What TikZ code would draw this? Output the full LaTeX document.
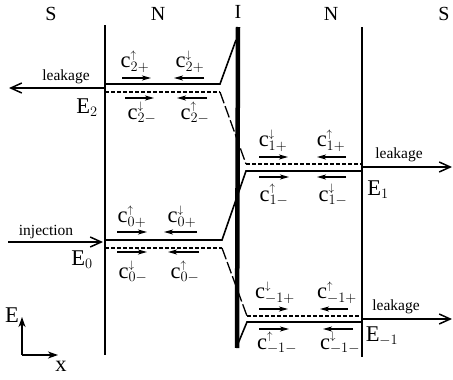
\documentclass[tikz,border=0pt]{standalone}
\usepackage{fontspec}
\setmainfont{Liberation Serif}
\usetikzlibrary{arrows.meta}

\begin{document}
\begin{tikzpicture}[x=1pt, y=-1pt,
    region/.style = {font=\fontsize{20}{22}\selectfont, inner sep=0pt},
    lab/.style = {font=\fontsize{22.5}{25}\selectfont, inner sep=0pt},
    small/.style = {font=\fontsize{15.5}{17}\selectfont, inner sep=0pt},
    wall/.style = {line width=1.6pt},
    level/.style = {line width=1.6pt},
    hole/.style = {line width=1.6pt, dash pattern=on 4pt off 2pt},
    hop/.style = {line width=1.3pt, dash pattern=on 12pt off 3pt},
    mv/.style = {line width=1.3pt, -{Stealth[length=9pt,width=5pt,inset=2.5pt]}},
    flow/.style = {line width=1.5pt, -{Straight Barb[length=11pt,width=10pt]}},
    axis/.style = {line width=1.4pt, -{Stealth[length=10pt,width=7pt,inset=3pt]}}]
    \useasboundingbox (0,0) rectangle (453,380);
    % regions
    \node[region] (s1) at (51,14) {S};
    \node[region] (n1) at (158,14) {N};
    \node[region] (i) at (238,12) {I};
    \node[region] (n2) at (331,14) {N};
    \node[region] (s2) at (444,14) {S};
    % walls and interface
    \coordinate (w1t) at (105,25); \coordinate (w1b) at (105,355);
    \coordinate (w2t) at (362,27); \coordinate (w2b) at (362,357);
    \coordinate (it) at (238,27); \coordinate (ib) at (237,348);
    \draw[wall] (w1t) -- (w1b);
    \draw[wall] (w2t) -- (w2b);
    \draw[line width=4.5pt] (it) -- (ib);
    % level ends
    \coordinate (a2) at (105,84); \coordinate (b2) at (220,84);
    \coordinate (c2) at (105,92); \coordinate (d2) at (220,92);
    \coordinate (a1) at (246,171); \coordinate (b1) at (362,171);
    \coordinate (c1) at (246,164); \coordinate (d1) at (362,164);
    \coordinate (a0) at (105,240); \coordinate (b0) at (222,240);
    \coordinate (c0) at (105,248); \coordinate (d0) at (222,248);
    \coordinate (am) at (247,322); \coordinate (bm) at (362,322);
    \coordinate (cm) at (247,316); \coordinate (dm) at (362,316);
    \coordinate (up) at (236,40); \coordinate (down) at (237,346);
    % levels
    \draw[level] (a2) -- (b2) -- (up);
    \draw[level] (a0) -- (b0) -- (a1) -- (b1);
    \draw[level] (down) -- (am) -- (bm);
    \draw[hole] (c2) -- (d2);
    \draw[hop] (d2) -- (c1);
    \draw[hole] (c1) -- (d1);
    \draw[hole] (c0) -- (d0);
    \draw[hop] (d0) -- (cm);
    \draw[hole] (cm) -- (dm);
    % injection and leakage
    \coordinate (o2) at (105,88); \coordinate (f2) at (9,88);
    \coordinate (o0) at (8,242); \coordinate (f0) at (103,242);
    \coordinate (o1) at (362,167); \coordinate (f1) at (452,167);
    \coordinate (om) at (362,319); \coordinate (fm) at (452,319);
    \draw[flow] (o2) -- (f2);
    \draw[flow] (o0) -- (f0);
    \draw[flow] (o1) -- (f1);
    \draw[flow] (om) -- (fm);
    \node[small] (lk2) at (66,77) {leakage};
    \node[small] (inj) at (46,232) {injection};
    \node[small] (lk1) at (399,155) {leakage};
    \node[small] (lkm) at (396,307) {leakage};
    % energies
    \node[lab] (e2) at (87,108) {$\mathrm{E}_2$};
    \node[lab] (e1) at (378,190) {$\mathrm{E}_1$};
    \node[lab] (e0) at (82,260) {$\mathrm{E}_0$};
    \node[lab] (em) at (382,336) {$\mathrm{E}_{-1}$};
    % amplitudes, E2
    \node[lab, anchor=south] (u2l) at (135,73) {$\mathrm{c}^{\scriptscriptstyle\uparrow}_{2+}$};
    \node[lab, anchor=south] (u2r) at (190,73) {$\mathrm{c}^{\scriptscriptstyle\downarrow}_{2+}$};
    \node[lab, anchor=north] (d2l) at (142,102) {$\mathrm{c}^{\scriptscriptstyle\downarrow}_{2-}$};
    \node[lab, anchor=north] (d2r) at (195,102) {$\mathrm{c}^{\scriptscriptstyle\uparrow}_{2-}$};
    \draw[mv] (u2l.south) ++(-13,5) -- ++(29,0);
    \draw[mv] (u2r.south) ++(14,5) -- ++(-30,0);
    \draw[mv] (d2l.north) ++(-17,-4) -- ++(29,0);
    \draw[mv] (d2r.north) ++(12,-4) -- ++(-30,0);
    % amplitudes, E1
    \node[lab, anchor=south] (u1l) at (273,152) {$\mathrm{c}^{\scriptscriptstyle\downarrow}_{1+}$};
    \node[lab, anchor=south] (u1r) at (331,152) {$\mathrm{c}^{\scriptscriptstyle\uparrow}_{1+}$};
    \node[lab, anchor=north] (d1l) at (274,184) {$\mathrm{c}^{\scriptscriptstyle\uparrow}_{1-}$};
    \node[lab, anchor=north] (d1r) at (333,184) {$\mathrm{c}^{\scriptscriptstyle\downarrow}_{1-}$};
    \draw[mv] (u1l.south) ++(-14,5) -- ++(29,0);
    \draw[mv] (u1r.south) ++(15,5) -- ++(-29,0);
    \draw[mv] (d1l.north) ++(-15,-7) -- ++(30,0);
    \draw[mv] (d1r.north) ++(13,-7) -- ++(-29,0);
    % amplitudes, E0
    \node[lab, anchor=south] (u0l) at (132,228) {$\mathrm{c}^{\scriptscriptstyle\uparrow}_{0+}$};
    \node[lab, anchor=south] (u0r) at (182,228) {$\mathrm{c}^{\scriptscriptstyle\downarrow}_{0+}$};
    \node[lab, anchor=north] (d0l) at (133,261) {$\mathrm{c}^{\scriptscriptstyle\downarrow}_{0-}$};
    \node[lab, anchor=north] (d0r) at (185,261) {$\mathrm{c}^{\scriptscriptstyle\uparrow}_{0-}$};
    \draw[mv] (u0l.south) ++(-15,4) -- ++(30,0);
    \draw[mv] (u0r.south) ++(15,4) -- ++(-33,0);
    \draw[mv] (d0l.north) ++(-16,-9) -- ++(30,0);
    \draw[mv] (d0r.north) ++(14,-9) -- ++(-31,0);
    % amplitudes, E-1
    \node[lab, anchor=south] (uml) at (275,304) {$\mathrm{c}^{\scriptscriptstyle\downarrow}_{-1+}$};
    \node[lab, anchor=south] (umr) at (337,304) {$\mathrm{c}^{\scriptscriptstyle\uparrow}_{-1+}$};
    \node[lab, anchor=north] (dml) at (277,332) {$\mathrm{c}^{\scriptscriptstyle\uparrow}_{-1-}$};
    \node[lab, anchor=north] (dmr) at (340,332) {$\mathrm{c}^{\scriptscriptstyle\downarrow}_{-1-}$};
    \draw[mv] (uml.south) ++(-16,5) -- ++(29,0);
    \draw[mv] (umr.south) ++(11,5) -- ++(-28,0);
    \draw[mv] (dml.north) ++(-18,-3) -- ++(30,0);
    \draw[mv] (dmr.north) ++(13,-3) -- ++(-30,0);
    % axes
    \coordinate (o) at (22,355);
    \node[lab] (ax) at (12,315) {E};
    \node[lab] (ay) at (61,366) {x};
    \draw[axis] (o) -- (22,317);
    \draw[axis] (o) -- (58,355);
\end{tikzpicture}
\end{document}
